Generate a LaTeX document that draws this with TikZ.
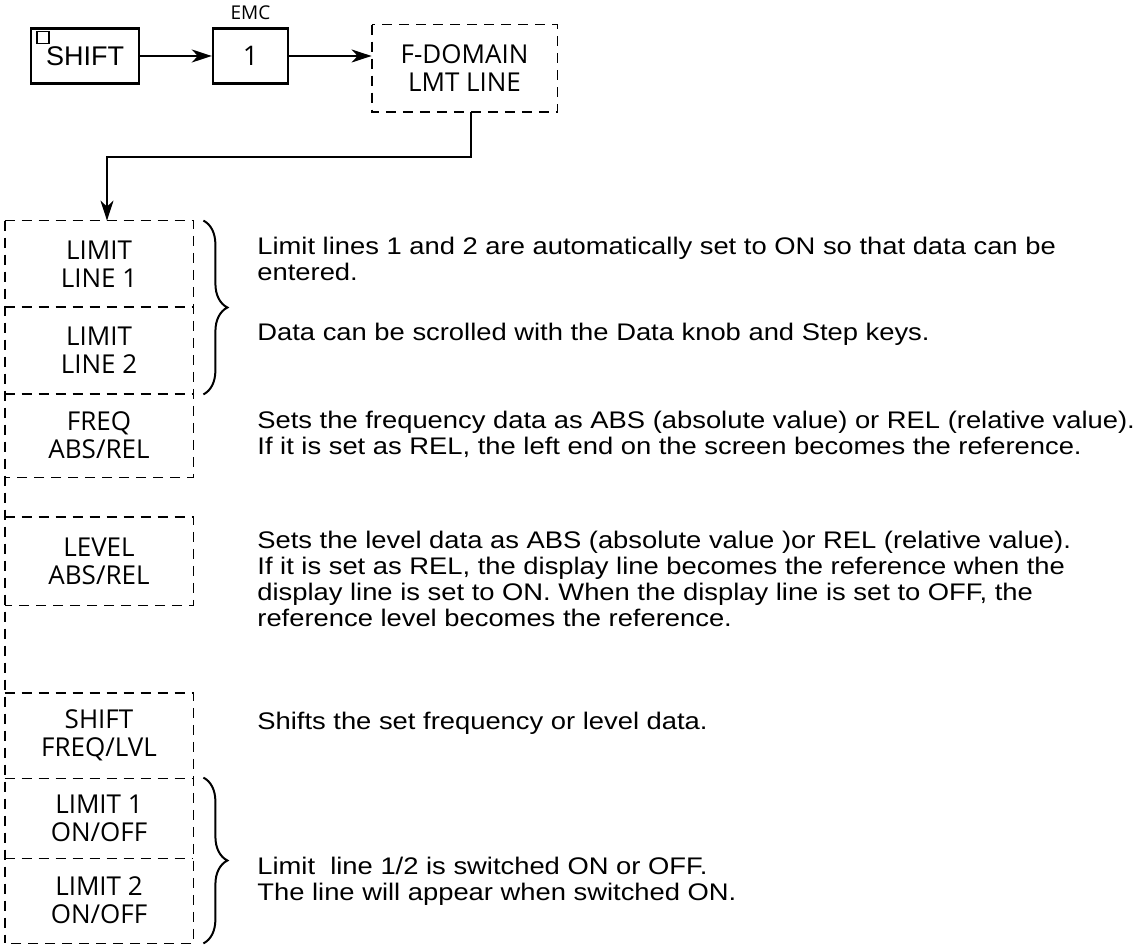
\documentclass[tikz,border=0pt]{standalone}
\usepackage{fontspec}
\setmainfont{Liberation Sans}[FakeStretch=1.14]
\newfontfamily\labelfont{Liberation Sans}
\newfontfamily\keyfont{Open Sans}
\usetikzlibrary{arrows.meta, positioning}
\usetikzlibrary{decorations.pathreplacing}

\tikzset{
  keybox/.style={minimum width=94pt, inner sep=0pt, align=center, font=\keyfont\fontsize{13}{14}\selectfont},
  dashline/.style={line width=0.9pt, dash pattern=on 5pt off 3.5pt},
  note/.style={anchor=base west, align=left, inner sep=0pt, font=\fontsize{12}{13}\selectfont},
  arr/.style={line width=1pt, -{Stealth[length=10pt,width=6.5pt,inset=3pt]}},
  bracket/.style={line width=1pt, decorate, decoration={brace, amplitude=12pt, raise=5pt}},
}

\begin{document}
\begin{tikzpicture}[x=0.5pt, y=-0.5pt]
\useasboundingbox (0,0) rectangle (1145,946);
% top row
\node[draw, line width=1.2pt, minimum width=54pt, minimum height=27.5pt, font=\labelfont\fontsize{13.5}{16}\selectfont] (shift) at (85,56) {SHIFT};
\node[draw, line width=0.8pt, minimum size=6pt, inner sep=0pt] (sq) at (43,37.5) {};
\node[draw, line width=1.2pt, minimum width=37.5pt, minimum height=27.5pt, font=\keyfont\fontsize{13.5}{15}\selectfont] (one) at (250.5,56) {1};
\node[font=\keyfont\fontsize{9.5}{11}\selectfont] (emc) at (250.5,13) {EMC};
\node[keybox, minimum width=92.5pt, minimum height=43.5pt] (fdom) at (464.5,68.5) {F-DOMAIN\\LMT LINE};
\draw[dashline] (fdom.north west) rectangle (fdom.south east);
\draw[arr] (shift) -- (one);
\draw[arr] (one) -- (one -| fdom.west);

% key column
\node[keybox, minimum height=43pt] (lim1) at (99,264) {LIMIT\\LINE 1};
\node[keybox, minimum height=43.5pt] (lim2) at (99,350.5) {LIMIT\\LINE 2};
\node[keybox, minimum height=41.5pt] (freq) at (99,435.5) {FREQ\\ABS/REL};
\node[keybox, minimum height=44pt] (level) at (99,561) {LEVEL\\ABS/REL};
\node[keybox, minimum height=42.5pt] (sfl) at (99,735.5) {SHIFT\\FREQ/LVL};
\node[keybox, minimum height=40pt] (on1) at (99,818) {LIMIT 1\\ON/OFF};
\node[keybox, minimum height=42.5pt] (on2) at (99,900.5) {LIMIT 2\\ON/OFF};

\draw[dashline] (lim1.north west) -- (lim1.north east) -- (freq.south east) -- (freq.south west);
\draw[dashline] (lim1.south west) -- (lim1.south east);
\draw[dashline] (lim2.south west) -- (lim2.south east);
\draw[dashline] (level.north west) -- (level.north east) -- (level.south east) -- (level.south west);
\draw[dashline] (sfl.north west) -- (sfl.north east) -- (on2.south east) -- (on2.south west);
\draw[dashline] (sfl.south west) -- (sfl.south east);
\draw[dashline] (on1.south west) -- (on1.south east);
\draw[dashline] (lim1.north west) -- (on2.south west);

\coordinate (bend) at (107,157);
\draw[arr] ([xshift=3pt]fdom.south) |- (bend) -- (bend |- lim1.north);

\draw[bracket] (lim1.north east) -- (lim2.south east);
\draw[bracket] (on1.north east) -- (on2.south east);

% notes
\node[note] (n1) at (257,281) {Limit lines 1 and 2 are automatically set to ON so that data can be\\entered.};
\node[note] (n2) at (257,341) {Data can be scrolled with the Data knob and Step keys.};
\node[note] (n3) at (257,454) {Sets the frequency data as ABS (absolute value) or REL (relative value).\\If it is set as REL, the left end on the screen becomes the reference.};
\node[note] (n4) at (257,626) {Sets the level data as ABS (absolute value )or REL (relative value).\\If it is set as REL, the display line becomes the reference when the\\display line is set to ON. When the display line is set to OFF, the\\reference level becomes the reference.};
\node[note] (n5) at (257,729) {Shifts the set frequency or level data.};
\node[note] (n6) at (257,900) {Limit\ \ line 1/2 is switched ON or OFF.\\The line will appear when switched ON.};
\end{tikzpicture}
\end{document}
